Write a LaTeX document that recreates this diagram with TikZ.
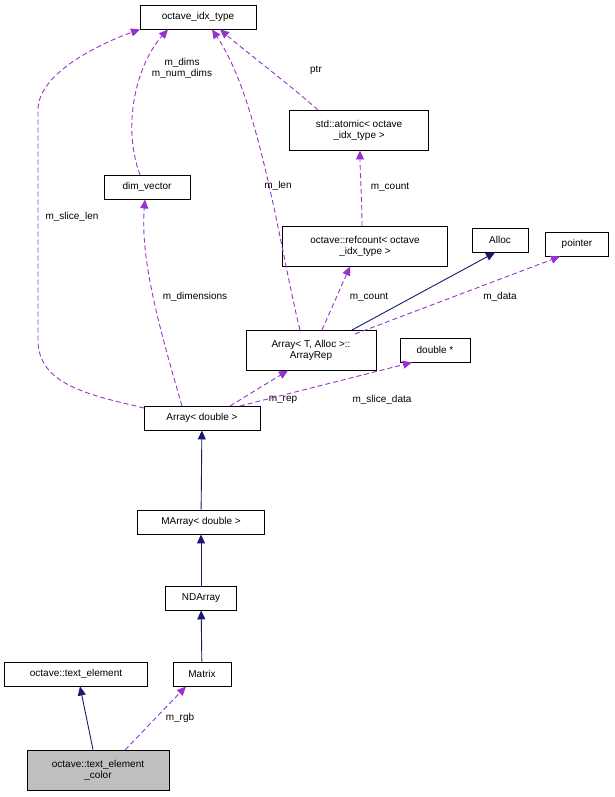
\documentclass[tikz,border=0pt]{standalone}
\usepackage{fontspec}
\setmainfont{Liberation Sans}
\usetikzlibrary{arrows.meta}
\begin{document}
\begin{tikzpicture}[x=1pt,y=-1pt,line width=0.9pt,
  box/.style={draw,fill=white,inner sep=2pt,font=\fontsize{10}{11}\selectfont,align=center},
  inh/.style={draw={rgb,255:red,25;green,25;blue,112},-{Triangle[length=9pt,width=8pt]}},
  use/.style={draw={rgb,255:red,153;green,50;blue,204},dash pattern=on 5pt off 3pt,-{Triangle[length=9pt,width=8pt]}},
  lab/.style={font=\fontsize{10}{11}\selectfont,align=center}]
\useasboundingbox (0,0) rectangle (614,797);
\node[box,minimum width=116pt,minimum height=24pt] (idx) at (198,17) {octave\_idx\_type};
\node[box,minimum width=139pt,minimum height=40pt] (atom) at (359,130) {std::atomic< octave\\\_idx\_type >};
\node[box,minimum width=86pt,minimum height=24pt] (dim) at (147,187) {dim\_vector};
\node[box,minimum width=165pt,minimum height=40pt] (ref) at (365,246) {octave::refcount< octave\\\_idx\_type >};
\node[box,minimum width=56pt,minimum height=24pt] (alloc) at (500,240) {Alloc};
\node[box,minimum width=63pt,minimum height=24pt] (ptr) at (577,244) {pointer};
\node[box,minimum width=130pt,minimum height=40pt] (rep) at (311,350) {Array< T, Alloc >::\\ArrayRep};
\node[box,minimum width=70pt,minimum height=24pt] (dbl) at (435,350) {double *};
\node[box,minimum width=116pt,minimum height=24pt] (arr) at (202,418) {Array< double >};
\node[box,minimum width=127pt,minimum height=24pt] (marr) at (201,522) {MArray< double >};
\node[box,minimum width=71pt,minimum height=24pt] (nd) at (201,598) {NDArray};
\node[box,minimum width=58pt,minimum height=24pt] (mat) at (202,674) {Matrix};
\node[box,minimum width=143pt,minimum height=24pt] (te) at (76,674) {octave::text\_element};
\node[box,fill={rgb,255:red,191;green,191;blue,191},minimum width=142pt,minimum height=40pt] (tec) at (98,770) {octave::text\_element\\\_color};

\draw[inh] (tec.north -| 93,0) -- (te.south -| 80,0);
\draw[use] (125,750) -- (mat.south -| 186,0);
\node[lab] at (180,718) {m\_rgb};
\draw[inh] (mat) -- (nd);
\draw[inh] (nd) -- (marr);
\draw[inh] (marr) -- (arr);
\draw[use] (230,406) -- (rep.south -| 288,0);
\node[lab] at (283,400) {m\_rep};
\draw[use] (240,406) -- (dbl.south -| 412,0);
\node[lab] at (382,400) {m\_slice\_data};
\draw[use] (182,406) .. controls (160,330) and (140,260) .. (dim.south -| 145,0);
\node[lab] at (195,297) {m\_dimensions};
\draw[use] (144,408) .. controls (90,395) and (38,385) .. (38,340) -- (38,110) .. controls (38,70) and (110,40) .. (idx.south -| 140,0);
\node[lab] at (72,217) {m\_slice\_len};
\draw[use] (300,330) .. controls (280,250) and (260,100) .. (idx.south -| 212,0);
\node[lab] at (278,186) {m\_len};
\draw[use] (322,330) -- (ref.south -| 350,0);
\node[lab] at (369,297) {m\_count};
\draw[use] (355,334) -- (ptr.south -| 560,0);
\node[lab] at (500,297) {m\_data};
\draw[inh] (352,330) -- (alloc.south -| 495,0);
\draw[use] (362,226) .. controls (362,200) and (360,170) .. (atom.south -| 360,0);
\node[lab] at (390,187) {m\_count};
\draw[use] (318,110) .. controls (290,85) and (250,55) .. (idx.south -| 220,0);
\node[lab] at (316,70) {ptr};
\draw[use] (140,175) .. controls (120,120) and (140,60) .. (idx.south -| 168,0);
\node[lab] at (182,68) {m\_dims\\m\_num\_dims};
\end{tikzpicture}
\end{document}
